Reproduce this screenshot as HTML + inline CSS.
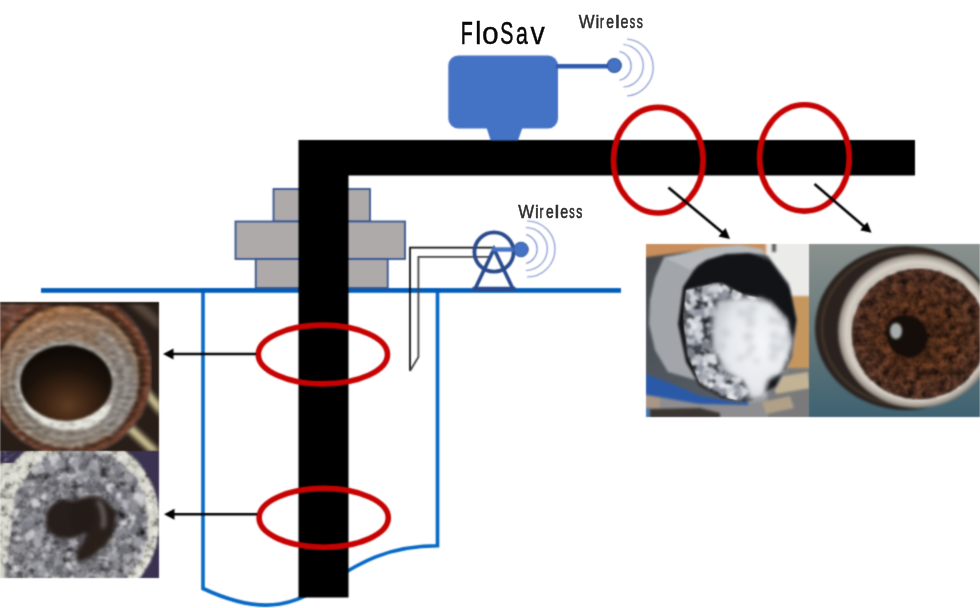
<!DOCTYPE html>
<html><head><meta charset="utf-8"><title>FloSav diagram</title>
<style>
html,body{margin:0;padding:0;background:#fff;width:980px;height:608px;overflow:hidden}
svg{display:block}
text{font-family:"Liberation Sans",sans-serif}
</style></head>
<body>
<svg width="980" height="608" viewBox="0 0 980 608">
<defs>
  <filter id="b1" x="-20%" y="-20%" width="140%" height="140%" color-interpolation-filters="sRGB"><feGaussianBlur stdDeviation="1.2"/></filter>
  <filter id="b2" x="-20%" y="-20%" width="140%" height="140%" color-interpolation-filters="sRGB"><feGaussianBlur stdDeviation="2.5"/></filter>
  <filter id="b4" x="-30%" y="-30%" width="160%" height="160%" color-interpolation-filters="sRGB"><feGaussianBlur stdDeviation="4"/></filter>
  <clipPath id="c1"><rect x="0" y="302" width="159" height="149"/></clipPath>
  <clipPath id="c2"><rect x="0" y="451" width="159" height="127"/></clipPath>
  <clipPath id="c3"><rect x="646" y="244" width="163" height="173"/></clipPath>
  <clipPath id="c4"><rect x="809" y="244" width="171" height="173"/></clipPath>
  <marker id="ah" markerUnits="userSpaceOnUse" markerWidth="14" markerHeight="14" refX="4.5" refY="6" orient="auto"><path d="M0,0.5 L10.5,6 L0,11.5 Z" fill="#000"/></marker>
  <linearGradient id="g1ring" x1="0.3" y1="0" x2="0.55" y2="1">
    <stop offset="0" stop-color="#a86c40"/><stop offset="0.22" stop-color="#94745c"/><stop offset="0.55" stop-color="#7e7266"/><stop offset="1" stop-color="#8a847c"/>
  </linearGradient>
  <linearGradient id="g1white" x1="0.2" y1="0.9" x2="0.8" y2="0.1">
    <stop offset="0" stop-color="#ecebe3"/><stop offset="0.5" stop-color="#c9c9c3"/><stop offset="1" stop-color="#9a958e"/>
  </linearGradient>
  <radialGradient id="g1hole" cx="0.52" cy="0.8" r="0.7">
    <stop offset="0" stop-color="#5e3c22"/><stop offset="0.35" stop-color="#3c2414"/><stop offset="0.7" stop-color="#1c120b"/><stop offset="1" stop-color="#100a06"/>
  </radialGradient>
  <radialGradient id="g2in" cx="0.5" cy="0.5" r="0.55">
    <stop offset="0" stop-color="#727278"/><stop offset="0.7" stop-color="#7a7a80"/><stop offset="1" stop-color="#9a9a9e"/>
  </radialGradient>
  <radialGradient id="g3snow" cx="0.6" cy="0.45" r="0.6">
    <stop offset="0" stop-color="#f4f6f8"/><stop offset="0.7" stop-color="#e6e9ed"/><stop offset="1" stop-color="#c8ccd2"/>
  </radialGradient>
  <linearGradient id="g4bg" x1="0" y1="0" x2="0" y2="1">
    <stop offset="0" stop-color="#8a918d"/><stop offset="0.6" stop-color="#5f7478"/><stop offset="1" stop-color="#3e6272"/>
  </linearGradient>
  <radialGradient id="g4rust" cx="0.5" cy="0.5" r="0.5">
    <stop offset="0" stop-color="#54301c"/><stop offset="0.5" stop-color="#703e24"/><stop offset="1" stop-color="#664030"/>
  </radialGradient>
  <linearGradient id="g3body" x1="0" y1="0" x2="0.2" y2="1">
    <stop offset="0" stop-color="#434549"/><stop offset="0.5" stop-color="#4c5056"/><stop offset="1" stop-color="#535a62"/>
  </linearGradient>
  <filter id="tex2" x="0" y="0" width="100%" height="100%" color-interpolation-filters="sRGB">
    <feTurbulence type="fractalNoise" baseFrequency="0.11" numOctaves="3" seed="4" result="t"/>
    <feColorMatrix in="t" type="matrix" values="0.33 0.33 0.33 0 0  0.33 0.33 0.33 0 0  0.33 0.33 0.33 0 0  0 0 0 0 1" result="g"/>
    <feComponentTransfer in="g" result="c"><feFuncR type="linear" slope="1.4" intercept="-0.2"/><feFuncG type="linear" slope="1.4" intercept="-0.2"/><feFuncB type="linear" slope="1.4" intercept="-0.2"/></feComponentTransfer>
    <feBlend in="c" in2="SourceGraphic" mode="hard-light" result="b"/>
    <feComposite in="b" in2="SourceGraphic" operator="in" result="d"/>
    <feGaussianBlur in="d" stdDeviation="0.7"/>
  </filter>
  <filter id="tex1" x="0" y="0" width="100%" height="100%" color-interpolation-filters="sRGB">
    <feTurbulence type="fractalNoise" baseFrequency="0.12 0.3" numOctaves="2" seed="7" result="t"/>
    <feColorMatrix in="t" type="matrix" values="0.33 0.33 0.33 0 0  0.33 0.33 0.33 0 0  0.33 0.33 0.33 0 0  0 0 0 0 1" result="g"/>
    <feComponentTransfer in="g" result="c"><feFuncR type="linear" slope="0.7" intercept="0.15"/><feFuncG type="linear" slope="0.7" intercept="0.15"/><feFuncB type="linear" slope="0.7" intercept="0.15"/></feComponentTransfer>
    <feBlend in="c" in2="SourceGraphic" mode="hard-light" result="b"/>
    <feComposite in="b" in2="SourceGraphic" operator="in" result="d"/>
    <feGaussianBlur in="d" stdDeviation="0.8"/>
  </filter>
  <filter id="texm" x="0" y="0" width="100%" height="100%" color-interpolation-filters="sRGB">
    <feTurbulence type="fractalNoise" baseFrequency="0.13" numOctaves="3" seed="9" result="t"/>
    <feColorMatrix in="t" type="matrix" values="0.33 0.33 0.33 0 0  0.33 0.33 0.33 0 0  0.33 0.33 0.33 0 0  0 0 0 0 1" result="g"/>
    <feComponentTransfer in="g" result="c"><feFuncR type="linear" slope="2.0" intercept="-0.3"/><feFuncG type="linear" slope="2.0" intercept="-0.3"/><feFuncB type="linear" slope="2.0" intercept="-0.3"/></feComponentTransfer>
    <feBlend in="c" in2="SourceGraphic" mode="multiply" result="b"/>
    <feComposite in="b" in2="SourceGraphic" operator="in" result="d"/>
    <feGaussianBlur in="d" stdDeviation="0.6"/>
  </filter>
  <filter id="gb" x="-2%" y="-2%" width="104%" height="104%" color-interpolation-filters="sRGB"><feConvolveMatrix order="5 1" kernelMatrix="0.00962 0.20542 0.56991 0.20542 0.00962" edgeMode="duplicate" result="h"/><feConvolveMatrix in="h" order="1 5" kernelMatrix="0.00962 0.20542 0.56991 0.20542 0.00962" edgeMode="duplicate"/></filter>
  <radialGradient id="g4silver" cx="0.5" cy="0.5" r="0.5">
    <stop offset="0.84" stop-color="#c8c2b8"/><stop offset="0.9" stop-color="#d6d0c6"/><stop offset="0.96" stop-color="#aaa39a"/><stop offset="1" stop-color="#80786f"/>
  </radialGradient>
  <filter id="b15" x="-20%" y="-20%" width="140%" height="140%" color-interpolation-filters="sRGB"><feGaussianBlur stdDeviation="1.9"/></filter>
  <filter id="b07" x="-5%" y="-5%" width="110%" height="110%" color-interpolation-filters="sRGB"><feGaussianBlur stdDeviation="0.8"/></filter>
  <clipPath id="c3x"><path d="M686,290 L720,282 L745,295 L770,300 L787,318 L792,345 L785,370 L770,378 L762,398 L745,402 L718,396 L700,384 L688,356 L683,320 Z"/></clipPath>
</defs>
<g filter="url(#gb)">
<rect width="980" height="608" fill="#fff"/>

<!-- PHOTOS -->
<g id="photos">
<!-- Photo 1: rusty layered pipe -->
<g clip-path="url(#c1)">
  <rect x="0" y="302" width="159" height="149" fill="#281d17"/>
  <g filter="url(#b2)">
    <rect x="0" y="300" width="12" height="12" fill="#2f4424"/>
    <path d="M124,300 L140,300 L159,318 L159,330 Z" fill="#54463a"/>
    <g fill="#d6cc9c">
      <path d="M141,392 L147,388 L161,404 L161,416 Z"/>
      <path d="M124,428 L131,424 L161,452 L150,452 Z"/>
    </g>
  </g>
  <g filter="url(#tex1)"><g filter="url(#b1)">
    <circle cx="70" cy="374" r="82" fill="#5e3222"/><path d="M-2,300 L40,300 L10,330 L-2,340 Z" fill="#6a4436"/>
    <circle cx="70" cy="375" r="78.5" fill="none" stroke="#7a4630" stroke-width="4"/>
    <circle cx="69" cy="376" r="75" fill="#3e2619"/>
    <circle cx="68" cy="377" r="71" fill="url(#g1ring)"/>
    <g fill="none" stroke-width="2.2" opacity="0.6">
      <circle cx="69" cy="378" r="68" stroke="#b58760"/>
      <circle cx="68" cy="379" r="63" stroke="#6e5c4e"/>
      <circle cx="68" cy="380" r="58" stroke="#b8aa98"/>
      <circle cx="67" cy="381" r="53" stroke="#6a5e54"/>
    </g>
    <path d="M100,330 Q135,350 138,385 Q135,420 110,438 L100,425 Q120,400 118,380 Q112,355 95,340 Z" fill="#9aa0a6" opacity="0.3"/>
    <ellipse cx="66" cy="384" rx="52" ry="44" fill="#9c978f"/>
    <path d="M22,372 Q14,398 34,418 Q56,436 90,428 Q108,420 112,404 L100,404 Q92,418 66,420 Q36,418 26,392 Q22,382 24,372 Z" fill="#e6e5dc"/>
  </g></g>
  <g filter="url(#b1)">
    <path d="M66,383 m-46,0 a46,38 0 1 0 92,0 a46,38 0 1 0 -92,0" fill="url(#g1hole)"/>
    <rect x="-2" y="300" width="162" height="4.5" fill="#1e1410" opacity="0.85"/>
  </g>
</g>
<!-- Photo 2: crystalline deposit pipe -->
<g clip-path="url(#c2)">
  <rect x="0" y="451" width="159" height="127" fill="#3a3250"/>
  <rect x="0" y="463" width="30" height="115" fill="#d3d2c8"/>
  <g filter="url(#tex2)"><g filter="url(#b1)">
    <ellipse cx="76" cy="521" rx="84" ry="88" fill="#d3d2c8"/>
    <path d="M0,451 L16,451 L0,466 Z" fill="#3a3250"/>
    <ellipse cx="80" cy="523" rx="68" ry="76" fill="url(#g2in)"/>
    <path d="M12,523 L4,580 L30,580 Z" fill="#7e7e84"/>
  </g></g>
  <g filter="url(#b07)" opacity="0.85">
<polygon points="26.9,540.2 29.1,535.0 34.3,536.3 35.6,541.0 31.2,546.2" fill="#5e5e66"/>
<polygon points="42.1,494.6 45.3,493.1 47.6,494.4 48.1,497.6 43.9,500.5 40.7,497.3" fill="#dadade"/>
<polygon points="54.2,479.6 58.6,481.7 56.0,486.9 51.7,483.2" fill="#5e5e66"/>
<polygon points="93.7,596.5 93.3,591.3 95.0,589.9 100.4,591.6 99.6,593.8 97.3,596.0" fill="#dadade"/>
<polygon points="106.0,574.3 102.9,577.7 99.5,573.5 102.9,569.4" fill="#9e9ea6"/>
<polygon points="108.3,596.0 106.2,597.9 102.7,595.0 102.8,591.8 106.6,589.3 109.8,591.6" fill="#dadade"/>
<polygon points="118.5,561.2 119.6,569.6 114.0,568.3 112.4,560.0" fill="#8e8e96"/>
<polygon points="61.4,481.3 62.9,476.0 66.9,478.1 64.9,483.3" fill="#9e9ea6"/>
<polygon points="15.6,520.3 10.1,514.1 15.5,509.1 19.4,511.8" fill="#dadade"/>
<polygon points="77.1,538.7 80.7,535.4 83.3,537.7 82.5,540.7 80.9,541.8 76.7,540.6" fill="#5e5e66"/>
<polygon points="133.2,534.1 130.1,531.7 129.9,528.2 135.4,528.3 137.4,531.6 136.8,533.4" fill="#6e6e78"/>
<polygon points="106.3,485.1 111.3,482.3 115.1,485.3 111.4,493.2 106.6,490.3" fill="#dadade"/>
<polygon points="24.6,549.1 23.4,551.0 20.2,550.5 19.9,547.4 20.6,546.5 23.7,546.9" fill="#7e7e88"/>
<polygon points="85.1,474.4 85.7,480.5 78.2,484.4 76.0,477.7 79.4,473.9" fill="#7e7e88"/>
<polygon points="106.8,552.0 111.4,554.5 108.4,560.9 101.4,558.3" fill="#dadade"/>
<polygon points="49.6,468.3 50.7,463.0 54.8,461.3 58.3,463.9 56.7,468.1 52.2,470.0" fill="#9e9ea6"/>
<polygon points="128.2,539.5 129.9,537.8 134.3,538.5 135.7,542.0 132.4,543.3 129.2,544.2" fill="#7e7e88"/>
<polygon points="27.8,566.6 30.0,561.2 36.3,563.7 35.4,569.9" fill="#b0b0b6"/>
<polygon points="29.5,534.6 29.2,536.8 27.5,539.1 24.4,540.0 24.1,535.7 26.1,534.6" fill="#6e6e78"/>
<polygon points="114.6,534.8 116.1,529.9 120.8,530.6 121.0,535.3 118.6,537.1" fill="#dadade"/>
<polygon points="125.0,499.6 130.4,506.5 125.8,510.6 120.4,503.8" fill="#c4c4ca"/>
<polygon points="144.4,500.4 144.3,504.4 140.8,507.5 137.7,503.9 139.4,499.0" fill="#c4c4ca"/>
<polygon points="13.2,500.1 18.1,501.0 15.2,504.8 12.8,503.2" fill="#c4c4ca"/>
<polygon points="132.1,485.6 129.1,479.5 131.6,476.5 134.5,475.6 138.3,480.2 137.1,484.4" fill="#6e6e78"/>
<polygon points="29.0,528.2 24.0,525.7 23.5,520.7 27.2,518.8 33.1,520.8 33.3,526.2" fill="#7e7e88"/>
<polygon points="84.6,593.8 80.3,586.5 88.8,584.8 91.7,589.4" fill="#9e9ea6"/>
<polygon points="46.0,550.3 49.9,554.8 50.7,558.7 42.7,561.3 41.1,558.1 42.6,551.1" fill="#8e8e96"/>
<polygon points="94.0,471.1 95.4,471.1 97.2,472.1 97.6,474.6 94.9,475.1 93.5,473.6" fill="#6e6e78"/>
<polygon points="59.8,573.1 56.1,571.6 55.4,566.8 59.9,564.3 61.6,569.4" fill="#5e5e66"/>
<polygon points="75.2,541.4 74.7,545.9 69.8,547.1 66.5,546.1 65.6,540.0 70.8,538.2" fill="#b0b0b6"/>
<polygon points="87.2,460.2 84.7,461.0 82.4,455.1 84.4,454.4 89.1,454.9 90.0,456.7" fill="#7e7e88"/>
<polygon points="40.8,518.0 35.0,516.2 33.6,512.9 37.0,507.8 43.4,509.8 43.4,513.2" fill="#9e9ea6"/>
<polygon points="118.6,488.7 122.1,488.3 125.7,489.1 126.7,492.2 123.0,495.3 119.1,494.4" fill="#5e5e66"/>
<polygon points="34.2,544.4 38.1,542.7 40.4,545.4 37.9,548.1 35.0,547.7" fill="#7e7e88"/>
<polygon points="31.8,554.0 34.7,557.0 33.7,559.4 30.9,559.7 30.2,556.7" fill="#dadade"/>
<polygon points="123.2,583.9 121.0,584.1 118.6,582.4 118.4,579.5 121.5,578.9 124.0,580.8" fill="#7e7e88"/>
<polygon points="132.5,504.2 136.3,501.2 139.2,504.2 135.3,506.6" fill="#9e9ea6"/>
<polygon points="83.0,489.2 83.4,490.6 80.8,493.3 78.3,492.2 78.2,489.2 80.9,486.6" fill="#b0b0b6"/>
<polygon points="40.2,524.8 43.1,525.3 41.9,530.8 38.4,530.6 35.8,527.0" fill="#b0b0b6"/>
<polygon points="110.8,577.8 115.2,576.1 119.8,577.4 118.1,582.2 112.8,583.5" fill="#dadade"/>
<polygon points="64.4,585.4 63.5,589.3 59.4,588.7 60.0,584.7" fill="#b0b0b6"/>
<polygon points="61.0,538.6 64.1,537.6 69.0,541.7 69.7,544.8 63.5,547.0 60.3,545.9" fill="#5e5e66"/>
<polygon points="51.5,555.8 55.7,558.1 52.8,562.0 47.8,559.6" fill="#5e5e66"/>
<polygon points="102.6,558.9 100.4,559.6 97.1,558.0 98.2,555.9 101.4,555.3" fill="#c4c4ca"/>
<polygon points="81.5,471.4 79.9,467.9 85.4,464.6 88.4,467.5 87.5,473.7" fill="#b0b0b6"/>
<polygon points="122.0,467.8 119.5,473.9 114.1,472.6 111.3,467.9 118.5,464.2" fill="#7e7e88"/>
<polygon points="65.0,564.2 64.7,569.0 59.0,567.9 57.8,565.1 62.6,560.9" fill="#5e5e66"/>
<polygon points="68.3,557.9 66.3,556.3 65.6,553.3 68.6,551.0 71.8,551.9 71.3,555.5" fill="#c4c4ca"/>
<polygon points="14.2,503.5 14.3,496.8 20.4,499.2 17.8,504.0" fill="#8e8e96"/>
<polygon points="131.8,473.4 133.8,477.5 131.5,482.7 124.7,480.7 124.4,474.3" fill="#9e9ea6"/>
<polygon points="101.4,594.0 97.7,595.5 95.3,591.1 100.3,589.9" fill="#9e9ea6"/>
<polygon points="100.8,586.6 95.6,585.8 95.9,579.4 100.2,577.4 105.1,582.0" fill="#b0b0b6"/>
<polygon points="48.8,465.9 56.0,466.8 54.9,472.7 48.6,473.4" fill="#8e8e96"/>
<polygon points="34.5,466.3 38.3,468.0 37.5,473.0 31.9,474.2 30.0,468.1" fill="#c4c4ca"/>
<polygon points="129.1,561.7 122.8,558.8 123.0,553.3 131.3,555.9" fill="#b0b0b6"/>
<polygon points="121.1,503.1 115.7,502.8 114.8,497.8 118.2,495.7 121.9,497.2 122.5,501.3" fill="#9e9ea6"/>
<polygon points="56.6,561.1 61.4,558.3 64.1,563.7 59.1,565.6" fill="#8e8e96"/>
<polygon points="51.3,569.5 48.5,568.3 49.0,565.5 50.4,562.8 52.5,563.5 53.7,566.4" fill="#6e6e78"/>
<polygon points="124.8,488.1 124.1,493.9 122.4,496.2 118.2,494.6 117.0,489.3 121.0,487.8" fill="#6e6e78"/>
<polygon points="41.6,541.6 35.7,541.0 33.0,537.2 34.9,533.8 38.9,531.7 42.9,534.8" fill="#b0b0b6"/>
<polygon points="49.5,520.4 44.6,522.1 42.1,519.1 42.1,514.3 48.8,515.5" fill="#c4c4ca"/>
<polygon points="75.8,473.3 76.2,466.3 80.3,464.6 85.3,468.4 86.6,471.3 79.3,476.1" fill="#b0b0b6"/>
<polygon points="79.8,484.7 75.2,480.1 80.3,477.6 84.7,482.0" fill="#c4c4ca"/>
<polygon points="145.9,496.1 143.9,501.4 138.4,503.1 132.7,498.0 134.0,493.3 139.8,491.2" fill="#dadade"/>
<polygon points="69.0,562.0 70.2,564.5 69.7,567.0 66.1,565.8 66.4,561.6" fill="#dadade"/>
<polygon points="116.9,471.7 118.9,474.1 115.3,476.2 113.7,474.7 114.9,472.2" fill="#6e6e78"/>
<polygon points="62.2,584.6 64.5,591.0 58.4,591.8 54.1,589.2 57.0,583.2" fill="#7e7e88"/>
<polygon points="68.0,472.7 68.5,468.7 71.1,466.1 74.0,469.9 72.1,472.6" fill="#6e6e78"/>
<polygon points="38.2,543.6 34.0,547.5 29.0,544.0 33.5,539.8" fill="#5e5e66"/>
<polygon points="102.0,584.4 108.1,583.4 108.9,591.4 99.7,593.3" fill="#b0b0b6"/>
<polygon points="49.9,462.4 51.3,467.0 49.5,470.6 46.2,470.4 43.1,466.4 44.3,463.2" fill="#8e8e96"/>
<polygon points="71.8,580.5 74.9,574.1 79.9,575.8 80.8,578.1 79.5,583.2 74.9,583.0" fill="#5e5e66"/>
<polygon points="134.5,552.2 137.0,551.0 142.6,552.8 142.0,557.7 137.6,559.0 134.4,556.7" fill="#c4c4ca"/>
<polygon points="55.4,463.5 52.2,455.4 58.5,453.0 61.0,460.3" fill="#dadade"/>
<polygon points="14.5,511.0 15.2,513.7 13.1,514.6 10.5,512.1 12.6,510.7" fill="#9e9ea6"/>
<polygon points="129.2,569.1 126.7,574.7 123.4,573.0 125.2,568.0" fill="#b0b0b6"/>
<polygon points="14.9,495.0 19.0,487.5 25.2,491.3 23.0,498.1" fill="#7e7e88"/>
<polygon points="32.8,529.8 34.6,525.6 40.3,526.1 41.1,529.7 35.5,533.2" fill="#7e7e88"/>
<polygon points="76.1,465.0 80.4,464.5 82.1,469.7 77.9,473.7 75.5,472.0 74.2,467.9" fill="#c4c4ca"/>
<polygon points="51.3,586.1 48.8,581.8 53.2,578.9 56.7,583.5" fill="#7e7e88"/>
<polygon points="28.0,514.9 32.1,513.9 32.9,518.1 29.0,519.8 27.0,518.1" fill="#8e8e96"/>
<polygon points="114.9,573.7 119.7,571.8 123.9,577.2 121.9,581.8 115.1,580.1" fill="#8e8e96"/>
<polygon points="84.4,488.9 83.7,481.6 90.0,482.1 90.5,488.8" fill="#7e7e88"/>
<polygon points="44.4,577.6 41.6,574.3 44.2,570.7 47.2,571.0 49.2,574.6 47.7,577.5" fill="#dadade"/>
<polygon points="105.5,489.6 101.0,493.1 95.7,488.8 99.5,484.8 104.8,484.4" fill="#5e5e66"/>
<polygon points="26.3,490.7 23.2,492.4 18.0,492.3 17.6,486.5 21.2,483.7 24.5,485.3" fill="#dadade"/>
<polygon points="68.2,488.7 67.2,492.1 65.6,492.4 63.4,489.4 65.0,487.8 66.3,487.9" fill="#8e8e96"/>
<polygon points="63.6,468.5 56.6,466.3 57.1,459.0 65.1,461.2" fill="#8e8e96"/>
<polygon points="46.6,573.7 42.8,577.5 38.4,574.1 39.9,567.3 43.4,565.3 47.1,571.5" fill="#9e9ea6"/>
<polygon points="31.4,557.5 36.7,559.8 36.7,566.5 30.5,566.2 28.2,562.0" fill="#9e9ea6"/>
<polygon points="43.6,565.8 40.2,570.2 37.5,567.3 39.1,563.2" fill="#c4c4ca"/>
<polygon points="143.9,492.7 143.3,494.4 140.2,494.2 138.9,491.6 141.1,490.3 142.4,489.9" fill="#9e9ea6"/>
<polygon points="93.5,585.9 89.9,590.9 86.6,587.7 87.9,582.5" fill="#9e9ea6"/>
<polygon points="112.3,491.4 110.1,488.7 112.4,486.5 115.6,489.4" fill="#7e7e88"/>
<polygon points="141.8,551.1 138.2,555.4 136.5,551.3 138.8,547.8" fill="#5e5e66"/>
<polygon points="89.2,586.7 86.8,580.5 90.2,575.8 93.9,578.1 95.6,582.4" fill="#6e6e78"/>
<polygon points="20.4,538.5 17.6,541.1 15.0,540.0 15.6,535.9 18.7,536.6" fill="#dadade"/>
<polygon points="36.0,560.3 34.6,562.5 30.8,562.4 29.9,559.5 32.1,557.2 35.6,558.0" fill="#6e6e78"/>
<polygon points="108.1,554.9 104.9,555.9 102.6,553.6 104.4,550.8 108.0,552.9" fill="#7e7e88"/>
<polygon points="52.2,582.9 52.4,580.5 55.3,580.2 57.8,583.5 55.1,584.8" fill="#b0b0b6"/>
<polygon points="74.2,467.9 67.5,461.8 71.9,456.3 78.7,458.8" fill="#dadade"/>
<polygon points="37.6,548.5 34.1,545.6 32.8,541.0 36.8,538.0 41.1,541.7 43.1,545.6" fill="#b0b0b6"/>
<polygon points="100.1,566.7 100.3,573.6 94.0,573.8 95.0,567.1" fill="#6e6e78"/>
<polygon points="11.2,514.7 15.0,516.8 12.4,519.7 9.8,518.5" fill="#6e6e78"/>
<polygon points="118.6,556.1 111.5,559.1 109.5,553.4 117.7,551.2" fill="#b0b0b6"/>
<polygon points="123.1,535.8 115.7,537.7 115.1,531.8 119.3,528.8 124.5,530.6" fill="#8e8e96"/>
<polygon points="16.5,490.7 19.6,493.5 20.6,496.9 16.5,498.8 13.9,496.0" fill="#9e9ea6"/>
<polygon points="132.5,500.9 128.7,505.6 126.6,500.9 128.9,498.4" fill="#b0b0b6"/>
<polygon points="101.9,481.0 97.8,482.8 95.8,480.5 96.0,475.1 98.6,474.9 102.0,477.4" fill="#8e8e96"/>
<polygon points="75.4,467.3 75.5,461.6 79.9,462.2 79.8,466.2" fill="#b0b0b6"/>
<polygon points="123.6,579.9 120.8,576.0 122.3,573.2 125.6,573.1 125.8,576.6" fill="#b0b0b6"/>
<polygon points="138.0,515.1 142.6,514.1 146.7,518.0 144.1,524.4 138.5,522.7 135.7,518.7" fill="#6e6e78"/>
<polygon points="33.7,533.6 39.5,530.0 43.2,533.6 39.2,539.8" fill="#9e9ea6"/>
<polygon points="42.4,461.1 43.1,455.0 48.4,458.4 47.2,462.6" fill="#6e6e78"/>
<polygon points="86.5,503.3 83.4,505.6 77.5,502.4 79.1,496.8 83.4,495.2 88.9,498.3" fill="#dadade"/>
<polygon points="123.4,582.6 119.8,582.7 115.7,576.9 119.5,574.8 123.2,572.2 127.3,578.2" fill="#7e7e88"/>
<polygon points="63.1,583.8 62.6,579.9 64.3,577.8 67.5,578.4 67.5,583.1" fill="#dadade"/>
<polygon points="94.9,593.5 100.8,592.0 102.6,597.5 98.1,599.4" fill="#dadade"/>
<polygon points="41.4,564.9 37.9,566.9 36.1,562.8 39.2,560.3" fill="#b0b0b6"/>
<polygon points="34.3,581.6 36.9,577.3 40.3,575.8 42.1,579.5 40.2,583.1 35.8,583.9" fill="#b0b0b6"/>
<polygon points="82.9,484.3 76.1,478.6 81.9,473.9 86.2,478.9" fill="#8e8e96"/>
<polygon points="99.9,482.5 101.5,486.1 98.0,488.4 95.9,483.3" fill="#5e5e66"/>
<polygon points="41.2,481.4 39.7,484.4 36.6,482.6 35.4,480.3 37.4,478.2 39.8,478.3" fill="#6e6e78"/>
<polygon points="24.5,545.4 20.2,552.5 14.5,549.1 18.7,543.6" fill="#8e8e96"/>
<polygon points="119.7,581.2 120.5,577.3 124.7,578.5 124.5,581.5 121.5,582.2" fill="#7e7e88"/>
<polygon points="83.8,478.0 87.6,479.0 86.9,482.2 83.8,481.1" fill="#c4c4ca"/>
<polygon points="51.9,581.0 50.2,577.0 52.9,576.3 56.6,577.2 55.3,580.7" fill="#c4c4ca"/>
<polygon points="120.1,499.5 115.7,496.7 118.3,491.8 121.9,493.2" fill="#dadade"/>
<polygon points="121.4,586.3 117.9,588.3 114.5,583.2 117.6,578.4 123.9,581.1" fill="#b0b0b6"/>
<polygon points="32.7,574.4 37.0,574.6 42.0,578.1 37.1,583.0 32.9,581.0" fill="#6e6e78"/>
<polygon points="77.3,566.1 73.7,565.6 71.3,564.4 72.2,560.6 76.7,560.2 77.8,563.1" fill="#c4c4ca"/>
<polygon points="113.2,505.3 116.2,500.2 123.0,503.9 117.3,509.1" fill="#6e6e78"/>
<polygon points="24.9,486.1 27.1,492.2 20.5,495.4 16.6,491.2 19.7,486.8" fill="#7e7e88"/>
<polygon points="130.5,515.0 133.2,511.3 140.7,512.1 139.6,518.2 137.9,520.1 132.9,518.6" fill="#6e6e78"/>
<polygon points="104.9,557.8 101.8,554.7 101.4,551.9 105.5,550.3 108.2,553.9 106.6,556.7" fill="#7e7e88"/>
<polygon points="126.1,553.9 117.6,554.2 117.9,549.2 126.3,546.6" fill="#6e6e78"/>
<polygon points="96.3,455.1 94.7,448.5 97.1,446.2 103.4,449.9 102.0,454.9" fill="#c4c4ca"/>
<polygon points="80.5,580.5 75.0,578.7 75.9,573.6 79.4,571.8 84.5,575.1" fill="#8e8e96"/>
<polygon points="50.7,459.3 55.5,460.3 54.9,466.6 49.7,465.0" fill="#c4c4ca"/>
<polygon points="121.2,526.2 119.7,521.0 126.9,519.6 126.6,525.3" fill="#dadade"/>
<polygon points="148.4,541.2 140.8,540.0 141.8,534.9 147.6,535.0" fill="#5e5e66"/>
<polygon points="48.6,460.1 47.5,455.4 52.1,454.8 55.5,457.4 55.3,461.1 52.1,463.5" fill="#dadade"/>
<polygon points="78.7,463.9 90.1,465.9 86.0,472.0 78.3,469.9" fill="#6e6e78"/>
<polygon points="58.9,591.3 58.8,587.9 63.2,582.0 68.7,586.1 66.1,592.1" fill="#5e5e66"/>
<polygon points="110.9,581.1 106.6,583.1 104.3,581.1 106.9,576.9" fill="#b0b0b6"/>
<polygon points="76.0,585.6 73.2,584.5 74.6,579.7 78.4,580.2 79.4,584.6" fill="#7e7e88"/>
<polygon points="34.8,531.5 32.8,539.5 25.1,537.1 28.7,530.5" fill="#dadade"/>
<polygon points="32.5,498.4 37.2,498.5 40.8,504.1 39.1,506.5 33.3,507.1 31.5,504.8" fill="#dadade"/>
<polygon points="128.4,544.7 125.6,541.2 130.4,537.6 132.6,541.2" fill="#b0b0b6"/>
<polygon points="132.2,491.2 134.2,496.4 129.8,501.0 125.4,497.3 126.1,492.6" fill="#8e8e96"/>
<polygon points="134.8,545.9 132.5,539.7 137.2,537.8 141.6,538.3 144.9,544.0 141.3,545.6" fill="#9e9ea6"/>
<polygon points="132.0,515.1 134.9,514.6 135.8,516.7 135.1,520.3 132.3,520.2 130.2,518.2" fill="#dadade"/>
<polygon points="87.8,484.3 92.6,486.4 90.5,492.9 85.1,488.5" fill="#5e5e66"/>
<polygon points="129.0,510.4 127.4,503.2 134.9,501.1 136.5,508.2" fill="#8e8e96"/>
<polygon points="63.7,597.0 60.7,594.0 64.8,590.5 67.3,592.6 67.2,596.4" fill="#6e6e78"/>
<polygon points="107.1,555.3 112.5,553.7 116.7,554.1 115.9,559.0 112.3,561.3 109.4,561.4" fill="#9e9ea6"/>
<polygon points="93.2,460.6 97.1,465.2 95.7,470.3 86.6,469.9 87.8,465.8" fill="#9e9ea6"/>
<polygon points="23.5,535.4 27.4,531.6 32.5,534.0 33.0,538.0 27.2,541.4" fill="#c4c4ca"/>
<polygon points="45.6,553.6 46.9,557.6 43.0,558.2 41.1,554.4" fill="#c4c4ca"/>
<polygon points="76.8,449.6 78.5,452.8 75.1,455.0 73.0,451.4" fill="#9e9ea6"/>
<polygon points="70.5,465.8 71.4,461.5 74.2,458.6 77.8,459.5 78.8,465.5 75.6,467.1" fill="#9e9ea6"/>
<polygon points="86.9,591.3 84.3,588.9 86.4,585.4 90.5,585.4 92.3,590.1 89.7,592.1" fill="#5e5e66"/>
<polygon points="110.3,460.3 109.4,463.0 106.0,464.2 104.0,460.9 103.6,457.9 108.7,456.5" fill="#5e5e66"/>
<polygon points="69.0,583.0 68.2,578.9 72.7,574.5 75.2,578.4 75.6,581.6" fill="#dadade"/>
<polygon points="23.5,493.0 17.5,495.1 16.9,490.4 21.2,488.3" fill="#5e5e66"/>
<polygon points="36.3,508.0 39.3,508.5 42.0,512.8 39.7,514.1 36.3,513.2" fill="#5e5e66"/>
<polygon points="60.9,484.5 63.9,486.0 64.5,488.3 62.7,491.4 58.8,490.2 58.8,486.1" fill="#8e8e96"/>
<polygon points="50.9,494.0 53.7,496.1 50.2,501.6 45.9,499.8 46.1,494.7" fill="#8e8e96"/>
<polygon points="28.8,528.7 24.8,529.8 21.6,529.6 20.3,522.4 24.8,521.8 26.9,522.7" fill="#7e7e88"/>
<polygon points="113.2,576.3 110.0,576.5 110.6,573.1 113.0,572.0 114.3,574.1" fill="#7e7e88"/>
  </g>
  <g filter="url(#b15)">
    <ellipse cx="67" cy="519" rx="22" ry="20" fill="#261e1b"/>
    <path d="M84,496 Q110,493 117,516 Q116,538 101,550 Q90,560 78,563 Q73,556 80,546 Q90,532 91,515 Q90,503 84,496 Z" fill="#281f1b"/>
    <ellipse cx="82" cy="516" rx="12" ry="19" fill="#231b18"/>
    <path d="M98,501 Q106,512 103,528" fill="none" stroke="#7a7672" stroke-width="3.5"/>
  </g>
</g>
<!-- Photo 3: black pipe with white crystals -->
<g clip-path="url(#c3)">
  <rect x="646" y="244" width="163" height="173" fill="#8e8e90"/>
  <g filter="url(#b1)">
    <rect x="640" y="240" width="130" height="18" fill="#c88e5c"/>
    <rect x="766" y="240" width="50" height="58" fill="#ebebea"/>
    <rect x="772" y="240" width="4" height="12" fill="#5a5a5a"/>
    <rect x="786" y="296" width="30" height="74" fill="#c6965f"/>
    <rect x="768" y="368" width="48" height="52" fill="#7a7a7c"/>
    <path d="M772,378 L808,372 L810,388 L776,394 Z" fill="#c2b394"/>
    <path d="M762,402 L790,396 L794,408 L766,414 Z" fill="#b0a088"/>
    <rect x="640" y="384" width="20" height="36" fill="#a89686"/>
    <path d="M640,409 L700,408 L720,413 L720,420 L640,420 Z" fill="#3c3632"/>
    <rect x="640" y="408" width="10" height="12" fill="#4a7ab0"/>
    <path d="M640,360 L668,366 L700,388 L748,397 L748,405 L700,404 L640,394 Z" fill="#2a59a8"/>
    <path d="M640,258 L700,250 L740,247 L768,256 L789,284 L797,320 L792,358 L776,388 L740,403 L700,396 L670,383 L640,372 Z" fill="url(#g3body)"/>
    <path d="M664,257 L706,249 L691,277 L684,297 L681,324 L686,350 L696,380 L668,372 L655,350 L649,324 L650,300 L655,278 Z" fill="#a2a6aa"/>
    <path d="M678,324 L683,287 L694,270 L715,254 L740,249 L770,261 L790,289 L796,320 L790,356 L775,386 L750,400 L722,398 L700,386 L686,362 Z" fill="#121316"/>
    <path d="M666,258 L706,248 L740,245 L762,249 L766,255 L748,253 L726,254 L706,260 L690,270 Z" fill="#b4b8bc"/>
  </g>
  <g filter="url(#tex2)"><g filter="url(#b1)">
    <path d="M686,290 L720,282 L745,295 L770,300 L787,318 L792,345 L785,370 L770,378 L762,398 L745,402 L718,396 L700,384 L688,356 L683,320 Z" fill="#3c4046"/>
  </g></g>
  <g filter="url(#b07)" clip-path="url(#c3x)">
<polygon points="710.6,295.1 712.8,302.8 708.6,304.7 704.8,298.7" fill="#b8bcc4"/>
<polygon points="747.3,295.9 750.0,293.9 753.3,295.5 754.0,298.5 750.7,300.5 748.2,298.0" fill="#a4a8b0"/>
<polygon points="696.0,363.5 697.7,360.9 702.5,361.6 703.9,364.8 699.9,367.7" fill="#c8ccd2"/>
<polygon points="698.4,329.3 696.0,336.4 686.8,333.7 690.3,328.0" fill="#cfd3d9"/>
<polygon points="712.7,364.4 712.1,361.8 715.1,359.6 717.5,362.1 716.6,364.2" fill="#e4e6ea"/>
<polygon points="698.2,304.0 695.5,306.1 691.7,302.8 695.3,300.3" fill="#b8bcc4"/>
<polygon points="721.7,381.1 726.0,383.7 724.3,388.9 719.8,391.3 716.1,388.0 716.3,384.1" fill="#c8ccd2"/>
<polygon points="689.1,310.7 685.3,310.1 686.1,304.0 688.8,303.8 691.5,304.4 693.1,308.8" fill="#d8dce0"/>
<polygon points="745.3,392.2 742.3,395.7 736.2,396.6 734.4,388.8 739.9,387.2" fill="#a4a8b0"/>
<polygon points="699.7,313.5 704.2,308.7 707.8,309.2 710.2,313.6 705.6,319.1" fill="#b8bcc4"/>
<polygon points="731.4,393.2 735.7,385.2 742.1,391.9 738.4,397.5" fill="#d8dce0"/>
<polygon points="697.5,293.5 700.3,298.4 698.1,300.4 695.2,299.0 694.9,294.4" fill="#d8dce0"/>
<polygon points="724.0,386.6 716.9,391.3 712.3,385.3 718.0,380.5" fill="#cfd3d9"/>
<polygon points="741.0,382.4 734.8,384.2 732.3,380.6 734.3,377.7 738.6,376.4 741.6,377.5" fill="#cfd3d9"/>
<polygon points="708.9,376.1 708.1,379.6 703.1,377.4 701.3,374.5 705.0,370.3 708.0,370.8" fill="#e4e6ea"/>
<polygon points="696.7,337.8 696.0,333.0 703.0,332.1 704.2,336.0 699.5,339.1" fill="#d8dce0"/>
<polygon points="708.6,308.5 707.4,304.3 709.8,302.2 713.4,303.8 713.8,306.9 711.1,308.5" fill="#e4e6ea"/>
<polygon points="706.1,294.3 709.4,298.2 706.7,300.4 704.4,302.0 701.9,298.0 703.6,293.4" fill="#e4e6ea"/>
<polygon points="732.5,394.9 726.7,395.9 723.9,392.8 729.6,389.7" fill="#a4a8b0"/>
<polygon points="708.3,339.9 710.0,341.1 706.8,345.4 704.4,344.3 704.1,339.6" fill="#cfd3d9"/>
<polygon points="727.2,383.2 733.5,385.5 732.3,392.0 727.1,393.2 723.3,390.0" fill="#e4e6ea"/>
<polygon points="721.6,285.8 722.6,289.9 717.9,292.7 714.1,289.6 717.0,282.7" fill="#9094a0"/>
<polygon points="711.2,326.0 708.2,328.0 705.3,325.9 706.7,322.4 710.2,323.0" fill="#a4a8b0"/>
<polygon points="709.3,354.2 708.6,357.6 706.8,359.5 703.0,358.0 703.4,354.4 706.6,352.7" fill="#a4a8b0"/>
<polygon points="731.4,395.3 735.9,393.2 739.1,394.7 736.9,400.8 732.5,400.4" fill="#c8ccd2"/>
<polygon points="705.5,372.2 704.7,375.7 700.4,376.0 699.5,373.0 699.8,370.8 703.8,370.0" fill="#d8dce0"/>
<polygon points="700.6,362.4 701.8,358.0 708.6,358.9 709.0,361.9 707.6,366.3 704.0,367.6" fill="#cfd3d9"/>
<polygon points="694.3,289.8 692.7,297.9 686.0,296.1 684.8,290.1 688.1,289.1" fill="#cfd3d9"/>
<polygon points="714.5,293.4 718.1,296.3 715.1,299.7 711.9,299.6 710.5,294.2" fill="#9094a0"/>
<polygon points="713.7,371.9 713.5,379.3 707.5,380.5 703.4,376.9 706.3,369.4" fill="#e4e6ea"/>
<polygon points="718.9,392.5 722.6,385.8 727.5,389.9 724.2,395.9" fill="#7c8088"/>
<polygon points="695.0,357.7 695.7,361.6 693.1,361.7 691.1,360.9 690.6,358.3 692.2,356.6" fill="#a4a8b0"/>
<polygon points="713.5,292.2 708.7,291.9 707.5,289.4 710.0,285.9 715.0,288.6" fill="#b8bcc4"/>
<polygon points="697.5,332.2 695.1,339.2 689.9,336.8 687.9,330.7 693.2,328.7" fill="#c8ccd2"/>
<polygon points="692.8,307.9 697.5,311.5 698.4,314.7 694.5,317.0 689.2,312.8 688.5,309.5" fill="#a4a8b0"/>
<polygon points="697.7,361.6 703.4,356.7 709.0,360.4 703.4,366.5" fill="#cfd3d9"/>
<polygon points="698.0,373.9 698.9,369.9 703.3,371.0 704.4,373.0 702.0,376.2 700.5,376.1" fill="#7c8088"/>
<polygon points="723.3,368.3 720.8,372.0 717.0,367.1 720.2,363.9" fill="#9094a0"/>
<polygon points="695.2,289.6 693.9,293.4 689.3,293.7 689.7,290.7 692.0,288.5" fill="#cfd3d9"/>
<polygon points="694.1,321.9 702.5,321.9 703.4,330.4 696.3,329.8" fill="#c8ccd2"/>
<polygon points="749.7,391.9 742.5,397.4 740.8,391.6 745.5,387.2" fill="#cfd3d9"/>
<polygon points="699.0,373.7 702.2,376.0 700.7,381.3 698.2,384.1 694.5,380.4 693.1,376.3" fill="#9094a0"/>
<polygon points="696.6,335.7 692.7,332.9 696.3,330.5 699.5,333.3" fill="#a4a8b0"/>
<polygon points="737.3,301.4 732.4,298.0 734.7,292.7 741.6,291.4 741.6,297.9" fill="#e4e6ea"/>
<polygon points="706.6,382.3 697.5,382.9 697.9,377.4 703.6,375.2" fill="#a4a8b0"/>
<polygon points="701.3,370.8 707.3,370.9 710.4,379.4 700.7,380.8" fill="#a4a8b0"/>
<polygon points="731.6,291.3 733.7,288.4 736.2,290.8 736.3,293.5 732.5,293.5" fill="#e4e6ea"/>
<polygon points="713.3,292.5 713.8,283.8 718.9,283.5 722.0,289.9 719.0,292.0" fill="#c8ccd2"/>
<polygon points="719.3,389.8 712.9,390.1 712.9,384.0 719.2,385.9" fill="#9094a0"/>
<polygon points="700.7,348.2 703.5,340.1 710.1,342.3 708.7,349.2" fill="#7c8088"/>
<polygon points="736.7,385.9 742.8,385.2 744.7,391.7 737.1,392.8" fill="#d8dce0"/>
<polygon points="708.6,365.9 706.3,373.2 699.4,373.0 700.0,363.4" fill="#7c8088"/>
<polygon points="705.4,313.0 706.1,308.5 710.3,307.8 711.8,313.7 709.1,315.8" fill="#c8ccd2"/>
<polygon points="685.5,324.7 686.2,320.8 691.8,322.1 692.6,326.8 686.2,328.6" fill="#d8dce0"/>
<polygon points="696.7,297.7 694.8,304.1 689.9,302.6 687.9,295.5 693.4,293.0" fill="#cfd3d9"/>
<polygon points="690.8,339.3 697.1,338.0 700.1,345.3 692.5,347.0" fill="#7c8088"/>
<polygon points="700.2,378.1 697.6,379.3 693.8,378.4 693.7,375.7 696.8,372.6 698.9,374.0" fill="#9094a0"/>
<polygon points="697.1,374.9 694.6,372.6 695.5,370.3 696.9,368.9 700.1,370.0 700.5,373.1" fill="#d8dce0"/>
<polygon points="696.1,330.2 691.4,329.4 690.1,320.8 698.4,323.2" fill="#e4e6ea"/>
<polygon points="689.1,304.7 685.5,307.1 681.8,303.8 685.7,300.5" fill="#d8dce0"/>
<polygon points="725.9,286.2 730.1,289.0 728.8,293.2 724.0,293.7 721.2,291.8 720.7,287.7" fill="#e4e6ea"/>
<polygon points="709.0,361.6 699.9,363.9 700.2,357.3 708.3,355.5" fill="#7c8088"/>
<polygon points="716.5,309.3 714.7,313.8 709.7,315.0 705.0,315.6 703.7,308.1 711.0,305.4" fill="#c8ccd2"/>
<polygon points="684.3,298.8 680.7,293.8 689.0,291.3 688.5,297.9" fill="#9094a0"/>
<polygon points="705.6,308.4 703.2,308.8 700.3,307.4 700.8,305.3 702.9,303.7 705.4,305.8" fill="#9094a0"/>
<polygon points="701.8,372.6 705.1,366.3 711.9,368.1 710.3,376.4" fill="#d8dce0"/>
<polygon points="703.2,372.3 705.1,369.6 709.1,369.6 710.0,373.6 706.3,374.6" fill="#a4a8b0"/>
<polygon points="719.0,294.0 722.6,291.0 729.5,293.4 722.9,300.5" fill="#7c8088"/>
<polygon points="701.1,319.5 696.5,316.7 693.7,313.1 698.1,309.6 703.1,308.8 705.3,314.9" fill="#9094a0"/>
<polygon points="698.1,340.2 692.3,337.3 691.2,333.1 697.3,329.1 702.6,331.5 701.7,337.5" fill="#9094a0"/>
<polygon points="699.8,320.5 698.1,323.4 695.4,324.3 693.2,321.8 693.3,318.5 697.6,317.6" fill="#cfd3d9"/>
<polygon points="685.2,334.6 683.2,333.8 682.2,328.0 683.8,323.9 690.4,326.8 691.4,332.5" fill="#a4a8b0"/>
<polygon points="734.0,290.2 737.9,291.5 737.3,296.5 732.1,298.2 730.1,294.2" fill="#b8bcc4"/>
<polygon points="726.6,297.5 722.1,296.7 720.4,293.4 723.8,288.6 728.1,290.2 730.1,296.6" fill="#9094a0"/>
<polygon points="712.4,286.9 715.0,286.7 718.0,289.8 713.8,293.1 711.4,289.9" fill="#d8dce0"/>
<polygon points="706.7,360.4 707.7,354.0 715.8,353.6 716.8,360.1 712.1,363.9" fill="#d8dce0"/>
<polygon points="723.3,383.9 717.2,380.8 719.8,374.4 727.2,374.5 728.7,378.8" fill="#9094a0"/>
<polygon points="705.1,297.6 700.9,295.9 702.2,291.0 707.4,293.0" fill="#c8ccd2"/>
<polygon points="739.0,394.5 733.3,391.7 734.2,385.2 738.5,384.7 743.0,388.0" fill="#b8bcc4"/>
<polygon points="716.8,390.6 720.9,385.0 727.9,390.5 722.2,396.5" fill="#9094a0"/>
<polygon points="712.1,357.0 715.4,359.2 714.0,362.7 710.1,361.6" fill="#d8dce0"/>
<polygon points="711.8,380.7 714.3,384.4 712.5,387.9 708.5,388.3 707.5,383.7" fill="#e4e6ea"/>
<polygon points="698.7,344.2 696.5,339.3 700.2,337.6 702.3,343.0" fill="#b8bcc4"/>
<polygon points="713.3,292.7 717.5,292.5 718.8,295.4 716.1,298.1 713.4,296.2" fill="#cfd3d9"/>
<polygon points="740.9,384.6 739.0,390.8 734.2,388.1 735.0,383.2" fill="#9094a0"/>
<polygon points="735.5,391.8 731.6,396.8 728.2,394.1 725.9,390.8 730.3,386.2 733.3,388.6" fill="#c8ccd2"/>
<polygon points="695.9,337.4 694.0,344.2 687.3,344.9 685.5,339.2 688.4,333.9 693.1,335.2" fill="#b8bcc4"/>
<polygon points="711.0,366.7 717.9,371.6 712.4,376.0 707.5,370.8" fill="#b8bcc4"/>
<polygon points="737.6,398.6 733.3,402.8 728.2,401.8 726.6,395.2 731.8,391.7 736.8,392.7" fill="#e4e6ea"/>
<polygon points="709.6,282.8 711.4,289.0 712.5,293.4 704.3,296.1 701.7,291.2 702.2,284.6" fill="#a4a8b0"/>
<polygon points="735.6,390.8 740.9,387.7 742.2,393.5 739.2,395.4" fill="#a4a8b0"/>
<polygon points="715.9,287.8 716.1,291.1 713.2,292.8 709.1,292.9 708.1,288.2 711.4,285.5" fill="#d8dce0"/>
<polygon points="723.6,381.8 727.4,385.3 725.4,388.3 719.1,387.9 719.9,383.9" fill="#e4e6ea"/>
<polygon points="694.3,334.3 694.1,338.0 690.8,339.3 685.5,336.7 686.9,331.5 692.8,332.5" fill="#7c8088"/>
<polygon points="693.7,319.7 691.3,323.0 686.0,320.2 689.2,317.8" fill="#e4e6ea"/>
<polygon points="689.7,317.7 693.4,319.4 692.6,322.2 689.1,321.9" fill="#d8dce0"/>
<polygon points="712.6,378.6 716.5,372.8 724.6,376.2 721.0,385.1" fill="#cfd3d9"/>
<polygon points="713.9,287.0 711.8,284.4 714.5,282.1 717.7,282.8 716.4,286.3" fill="#7c8088"/>
<polygon points="705.9,386.5 702.0,382.6 705.5,378.6 709.8,383.9" fill="#cfd3d9"/>
<polygon points="747.7,298.8 747.6,293.2 753.4,292.4 757.4,298.8 753.3,301.6" fill="#cfd3d9"/>
<polygon points="698.4,340.9 693.4,333.3 698.1,328.2 704.6,336.7" fill="#cfd3d9"/>
<polygon points="690.7,361.1 697.0,358.8 697.2,364.7 691.4,365.7" fill="#cfd3d9"/>
<polygon points="693.0,327.6 693.2,335.2 687.8,335.3 687.7,328.3" fill="#cfd3d9"/>
<polygon points="714.5,306.2 717.1,311.9 716.1,316.1 709.3,314.3 708.8,308.6" fill="#a4a8b0"/>
<polygon points="701.7,295.8 698.0,298.5 694.5,293.6 697.8,290.8" fill="#9094a0"/>
<polygon points="686.1,293.3 691.1,295.8 690.1,298.3 686.0,301.0 682.0,299.4 682.2,295.4" fill="#7c8088"/>
<polygon points="687.2,321.4 690.9,324.7 690.6,328.2 686.3,328.8 683.6,324.8" fill="#7c8088"/>
<polygon points="688.9,305.3 693.3,300.3 695.9,305.7 691.0,309.0" fill="#b8bcc4"/>
<polygon points="705.0,360.5 707.4,362.3 706.9,365.3 704.4,366.8 702.1,364.5 703.0,359.4" fill="#e4e6ea"/>
<polygon points="694.3,355.6 687.9,357.6 685.3,352.8 689.0,346.1 695.4,350.4" fill="#7c8088"/>
<polygon points="697.9,371.9 696.0,369.0 696.1,364.5 701.8,363.9 703.0,367.5 701.2,370.8" fill="#9094a0"/>
<polygon points="716.1,292.3 715.5,286.8 720.2,285.7 722.3,288.8 722.1,292.5" fill="#e4e6ea"/>
<polygon points="695.9,321.5 694.1,317.8 697.6,315.7 700.7,315.4 701.6,320.4 699.6,320.9" fill="#cfd3d9"/>
<polygon points="711.4,346.4 709.1,349.6 705.9,350.0 703.0,346.9 706.0,342.9 708.5,342.9" fill="#7c8088"/>
<polygon points="739.3,392.7 736.8,397.5 733.0,394.5 736.1,390.7" fill="#9094a0"/>
<polygon points="715.5,294.3 709.4,294.0 710.9,288.1 714.7,288.0" fill="#a4a8b0"/>
<polygon points="693.4,355.0 698.8,354.1 702.6,355.2 700.6,362.7 695.6,360.5" fill="#b8bcc4"/>
<polygon points="701.5,358.2 706.1,354.7 708.3,360.4 703.6,364.0" fill="#cfd3d9"/>
<polygon points="732.4,376.5 735.5,377.4 735.3,381.2 729.7,379.5" fill="#c8ccd2"/>
<polygon points="713.8,284.2 718.7,285.8 720.0,290.9 715.1,292.8 709.2,289.8 710.4,285.9" fill="#cfd3d9"/>
  </g>
  <g filter="url(#b2)">
    <path d="M718,300 L745,297 L770,302 L787,320 L792,345 L783,372 L768,380 L764,398 L750,400 L744,382 L725,372 L712,346 L712,320 Z" fill="url(#g3snow)"/>
    <g fill="#c2c6cc" opacity="0.55"><circle cx="725.2" cy="368.0" r="4.4"/><circle cx="750.3" cy="319.2" r="4.9"/><circle cx="776.6" cy="349.8" r="4.0"/><circle cx="741.7" cy="357.3" r="2.7"/><circle cx="775.5" cy="320.9" r="3.2"/><circle cx="761.3" cy="300.5" r="3.5"/><circle cx="751.8" cy="308.9" r="5.4"/><circle cx="741.5" cy="312.9" r="5.0"/><circle cx="748.3" cy="353.9" r="3.5"/><circle cx="750.8" cy="316.3" r="2.6"/><circle cx="781.3" cy="321.2" r="4.8"/><circle cx="773.0" cy="356.8" r="4.7"/><circle cx="721.8" cy="346.1" r="5.0"/><circle cx="783.0" cy="339.2" r="3.6"/><circle cx="748.1" cy="336.7" r="5.5"/><circle cx="742.9" cy="299.8" r="2.8"/><circle cx="751.7" cy="347.6" r="4.2"/><circle cx="771.9" cy="319.9" r="4.3"/><circle cx="756.5" cy="361.1" r="3.0"/><circle cx="725.6" cy="332.9" r="5.3"/><circle cx="739.7" cy="358.5" r="3.4"/><circle cx="720.3" cy="303.8" r="4.9"/><circle cx="774.2" cy="335.6" r="4.6"/><circle cx="788.7" cy="338.9" r="5.5"/><circle cx="782.7" cy="347.6" r="3.6"/><circle cx="725.0" cy="304.1" r="4.9"/><circle cx="773.9" cy="346.8" r="5.0"/><circle cx="716.2" cy="323.6" r="3.4"/><circle cx="745.6" cy="314.6" r="2.7"/><circle cx="750.3" cy="323.0" r="5.4"/></g>
  </g>
</g>
<!-- Photo 4: rust tuberculated pipe -->
<g clip-path="url(#c4)">
  <rect x="809" y="244" width="171" height="173" fill="url(#g4bg)"/>
  <g filter="url(#b1)">
    <ellipse cx="906" cy="328" rx="91" ry="82" fill="#2a221e"/>
    <ellipse cx="906" cy="328" rx="84" ry="77" fill="none" stroke="#4a3a2e" stroke-width="3" opacity="0.7"/>
    <ellipse cx="917" cy="331" rx="79" ry="77" fill="url(#g4silver)"/>
  </g>
  <g filter="url(#texm)"><g filter="url(#b1)">
    <ellipse cx="919" cy="334" rx="68" ry="66" fill="url(#g4rust)"/>
  </g></g>
  <g filter="url(#b1)">
    <path d="M886,332 Q889,314 906,315 Q925,318 928,336 Q926,356 908,358 Q888,354 886,332 Z" fill="#150d09"/>
    <ellipse cx="896" cy="331" rx="6" ry="8" fill="#a7adad"/>
  </g>
</g>
</g>

<!-- well (document shape) -->
<path d="M203,290 L437.5,290 L437.5,545.8 C320.25,545.8 320.25,643.3 203,588.5 Z" fill="none" stroke="#0568C6" stroke-width="3.6"/>
<!-- ground line -->
<rect x="41" y="288.1" width="580" height="4.7" fill="#005BBB"/>

<!-- bricks -->
<g fill="#AEAAAA" stroke="#36558F" stroke-width="1.8">
  <rect x="273.5" y="189" width="96.5" height="32.5"/>
  <rect x="235.5" y="221.5" width="169.5" height="37.5"/>
  <rect x="255.75" y="259" width="132" height="29"/>
</g>

<!-- black pipe -->
<path d="M298.5,140 L915,140 L915,175.5 L348.5,175.5 L348.5,597.5 L298.5,597.5 Z" fill="#000"/>

<!-- sensor tube -->
<path d="M494,247.6 L410,247.6 L410,371" fill="none" stroke="#0a0a0a" stroke-width="1.8"/>
<path d="M491,256.9 L418.4,256.9 L418.4,357 L410,371" fill="none" stroke="#404040" stroke-width="1.8"/>

<!-- tower -->
<g stroke="#28498C" fill="none">
  <circle cx="494" cy="252" r="19.6" stroke-width="3.8"/>
  <path d="M475,289 L494,249 L513,289" stroke-width="3.7" stroke-linejoin="miter"/>
  <line x1="472.5" y1="289" x2="515.5" y2="289" stroke-width="4.4"/>
</g>
<line x1="492" y1="249.5" x2="516" y2="249.5" stroke="#4472C4" stroke-width="4.4"/>
<circle cx="521" cy="249.5" r="7.3" fill="#4472C4" stroke="#2E5597" stroke-width="1"/>
<g fill="none" stroke="#7F91CE" stroke-width="1.15">
  <path d="M526,234.5 A15,15 0 0 1 526,263.5"/>
  <path d="M525.8,227.5 A21.5,21.5 0 0 1 525.8,270.5"/>
  <path d="M527,221 A28,28 0 0 1 527,277"/>
</g>

<!-- FloSav unit -->
<rect x="448.3" y="55.5" width="109.7" height="73" rx="10" ry="10" fill="#4472C4"/>
<path d="M486.3,127 L522.7,127 L518,140.5 L490.7,140.5 Z" fill="#4472C4"/>
<line x1="556" y1="66.2" x2="610" y2="66.2" stroke="#2F5AAD" stroke-width="4.6"/>
<circle cx="614.3" cy="65.5" r="7" fill="#4472C4" stroke="#2E5597" stroke-width="1.2"/>
<g fill="none" stroke="#7F91CE" stroke-width="1.15">
  <path d="M619.4,51.5 A14.7,14.7 0 0 1 619.4,80.3"/>
  <path d="M623.4,44.5 A21.3,21.3 0 0 1 623.4,87"/>
  <path d="M627,39 A28.6,28.6 0 0 1 627,96"/>
</g>

<!-- red ellipses -->
<g fill="none" stroke="#C60202" stroke-width="5.6">
  <ellipse cx="322.9" cy="354.5" rx="64.6" ry="29.4"/>
  <ellipse cx="323.7" cy="517.8" rx="64.6" ry="29.4"/>
  <ellipse cx="658.3" cy="160.2" rx="44.8" ry="52.8"/>
  <ellipse cx="804.4" cy="157.9" rx="44.8" ry="53.2"/>
</g>

<!-- arrows -->
<g stroke="#000" stroke-width="2.6" fill="none" marker-end="url(#ah)">
  <path d="M256,354 L169.0,354.0"/>
  <path d="M257,514.2 L170.0,514.2"/>
  <path d="M668.4,187.4 L725.4,235.1"/>
  <path d="M814.5,184.1 L867.0,228.9"/>
</g>
</g>
<g>
<text transform="translate(460.83 43.50) scale(0.629 1)" font-size="31.3" fill="#080808" stroke="#080808" stroke-width="0.60">F</text>
<text transform="translate(475.04 43.50) scale(0.949 1)" font-size="31.3" fill="#080808" stroke="#080808" stroke-width="0.36">l</text>
<text transform="translate(482.07 43.50) scale(0.960 1)" font-size="31.3" fill="#080808" stroke="#080808" stroke-width="0.34">o</text>
<text transform="translate(500.27 43.50) scale(0.628 1)" font-size="31.3" fill="#080808" stroke="#080808" stroke-width="0.60">S</text>
<text transform="translate(516.05 43.50) scale(0.679 1)" font-size="31.3" fill="#080808" stroke="#080808" stroke-width="0.56">a</text>
<text transform="translate(530.61 43.50) scale(0.913 1)" font-size="31.3" fill="#080808" stroke="#080808" stroke-width="0.39">v</text>
<text transform="translate(578.77 28.30) scale(0.954 1)" font-size="17.6" fill="#2c2c2c" stroke="#2c2c2c" stroke-width="0.47">W</text>
<text transform="translate(595.49 28.30) scale(0.974 1)" font-size="17.6" fill="#2c2c2c" stroke="#2c2c2c" stroke-width="0.46">i</text>
<text transform="translate(599.97 28.30) scale(0.659 1)" font-size="17.6" fill="#2c2c2c" stroke="#2c2c2c" stroke-width="0.62">r</text>
<text transform="translate(606.36 28.30) scale(0.786 1)" font-size="17.6" fill="#2c2c2c" stroke="#2c2c2c" stroke-width="0.56">e</text>
<text transform="translate(614.98 28.30) scale(1.234 1)" font-size="17.6" fill="#2c2c2c" stroke="#2c2c2c" stroke-width="0.45">l</text>
<text transform="translate(620.54 28.30) scale(0.810 1)" font-size="17.6" fill="#2c2c2c" stroke="#2c2c2c" stroke-width="0.54">e</text>
<text transform="translate(629.75 28.30) scale(0.610 1)" font-size="17.6" fill="#2c2c2c" stroke="#2c2c2c" stroke-width="0.64">s</text>
<text transform="translate(636.72 28.30) scale(0.688 1)" font-size="17.6" fill="#2c2c2c" stroke="#2c2c2c" stroke-width="0.61">s</text>
<text transform="translate(518.37 217.90) scale(0.954 1)" font-size="17.6" fill="#2c2c2c" stroke="#2c2c2c" stroke-width="0.47">W</text>
<text transform="translate(535.09 217.90) scale(0.974 1)" font-size="17.6" fill="#2c2c2c" stroke="#2c2c2c" stroke-width="0.46">i</text>
<text transform="translate(539.57 217.90) scale(0.659 1)" font-size="17.6" fill="#2c2c2c" stroke="#2c2c2c" stroke-width="0.62">r</text>
<text transform="translate(545.96 217.90) scale(0.786 1)" font-size="17.6" fill="#2c2c2c" stroke="#2c2c2c" stroke-width="0.56">e</text>
<text transform="translate(554.58 217.90) scale(1.234 1)" font-size="17.6" fill="#2c2c2c" stroke="#2c2c2c" stroke-width="0.45">l</text>
<text transform="translate(560.14 217.90) scale(0.810 1)" font-size="17.6" fill="#2c2c2c" stroke="#2c2c2c" stroke-width="0.54">e</text>
<text transform="translate(569.35 217.90) scale(0.610 1)" font-size="17.6" fill="#2c2c2c" stroke="#2c2c2c" stroke-width="0.64">s</text>
<text transform="translate(576.32 217.90) scale(0.688 1)" font-size="17.6" fill="#2c2c2c" stroke="#2c2c2c" stroke-width="0.61">s</text>
</g>
</svg>
</body></html>
